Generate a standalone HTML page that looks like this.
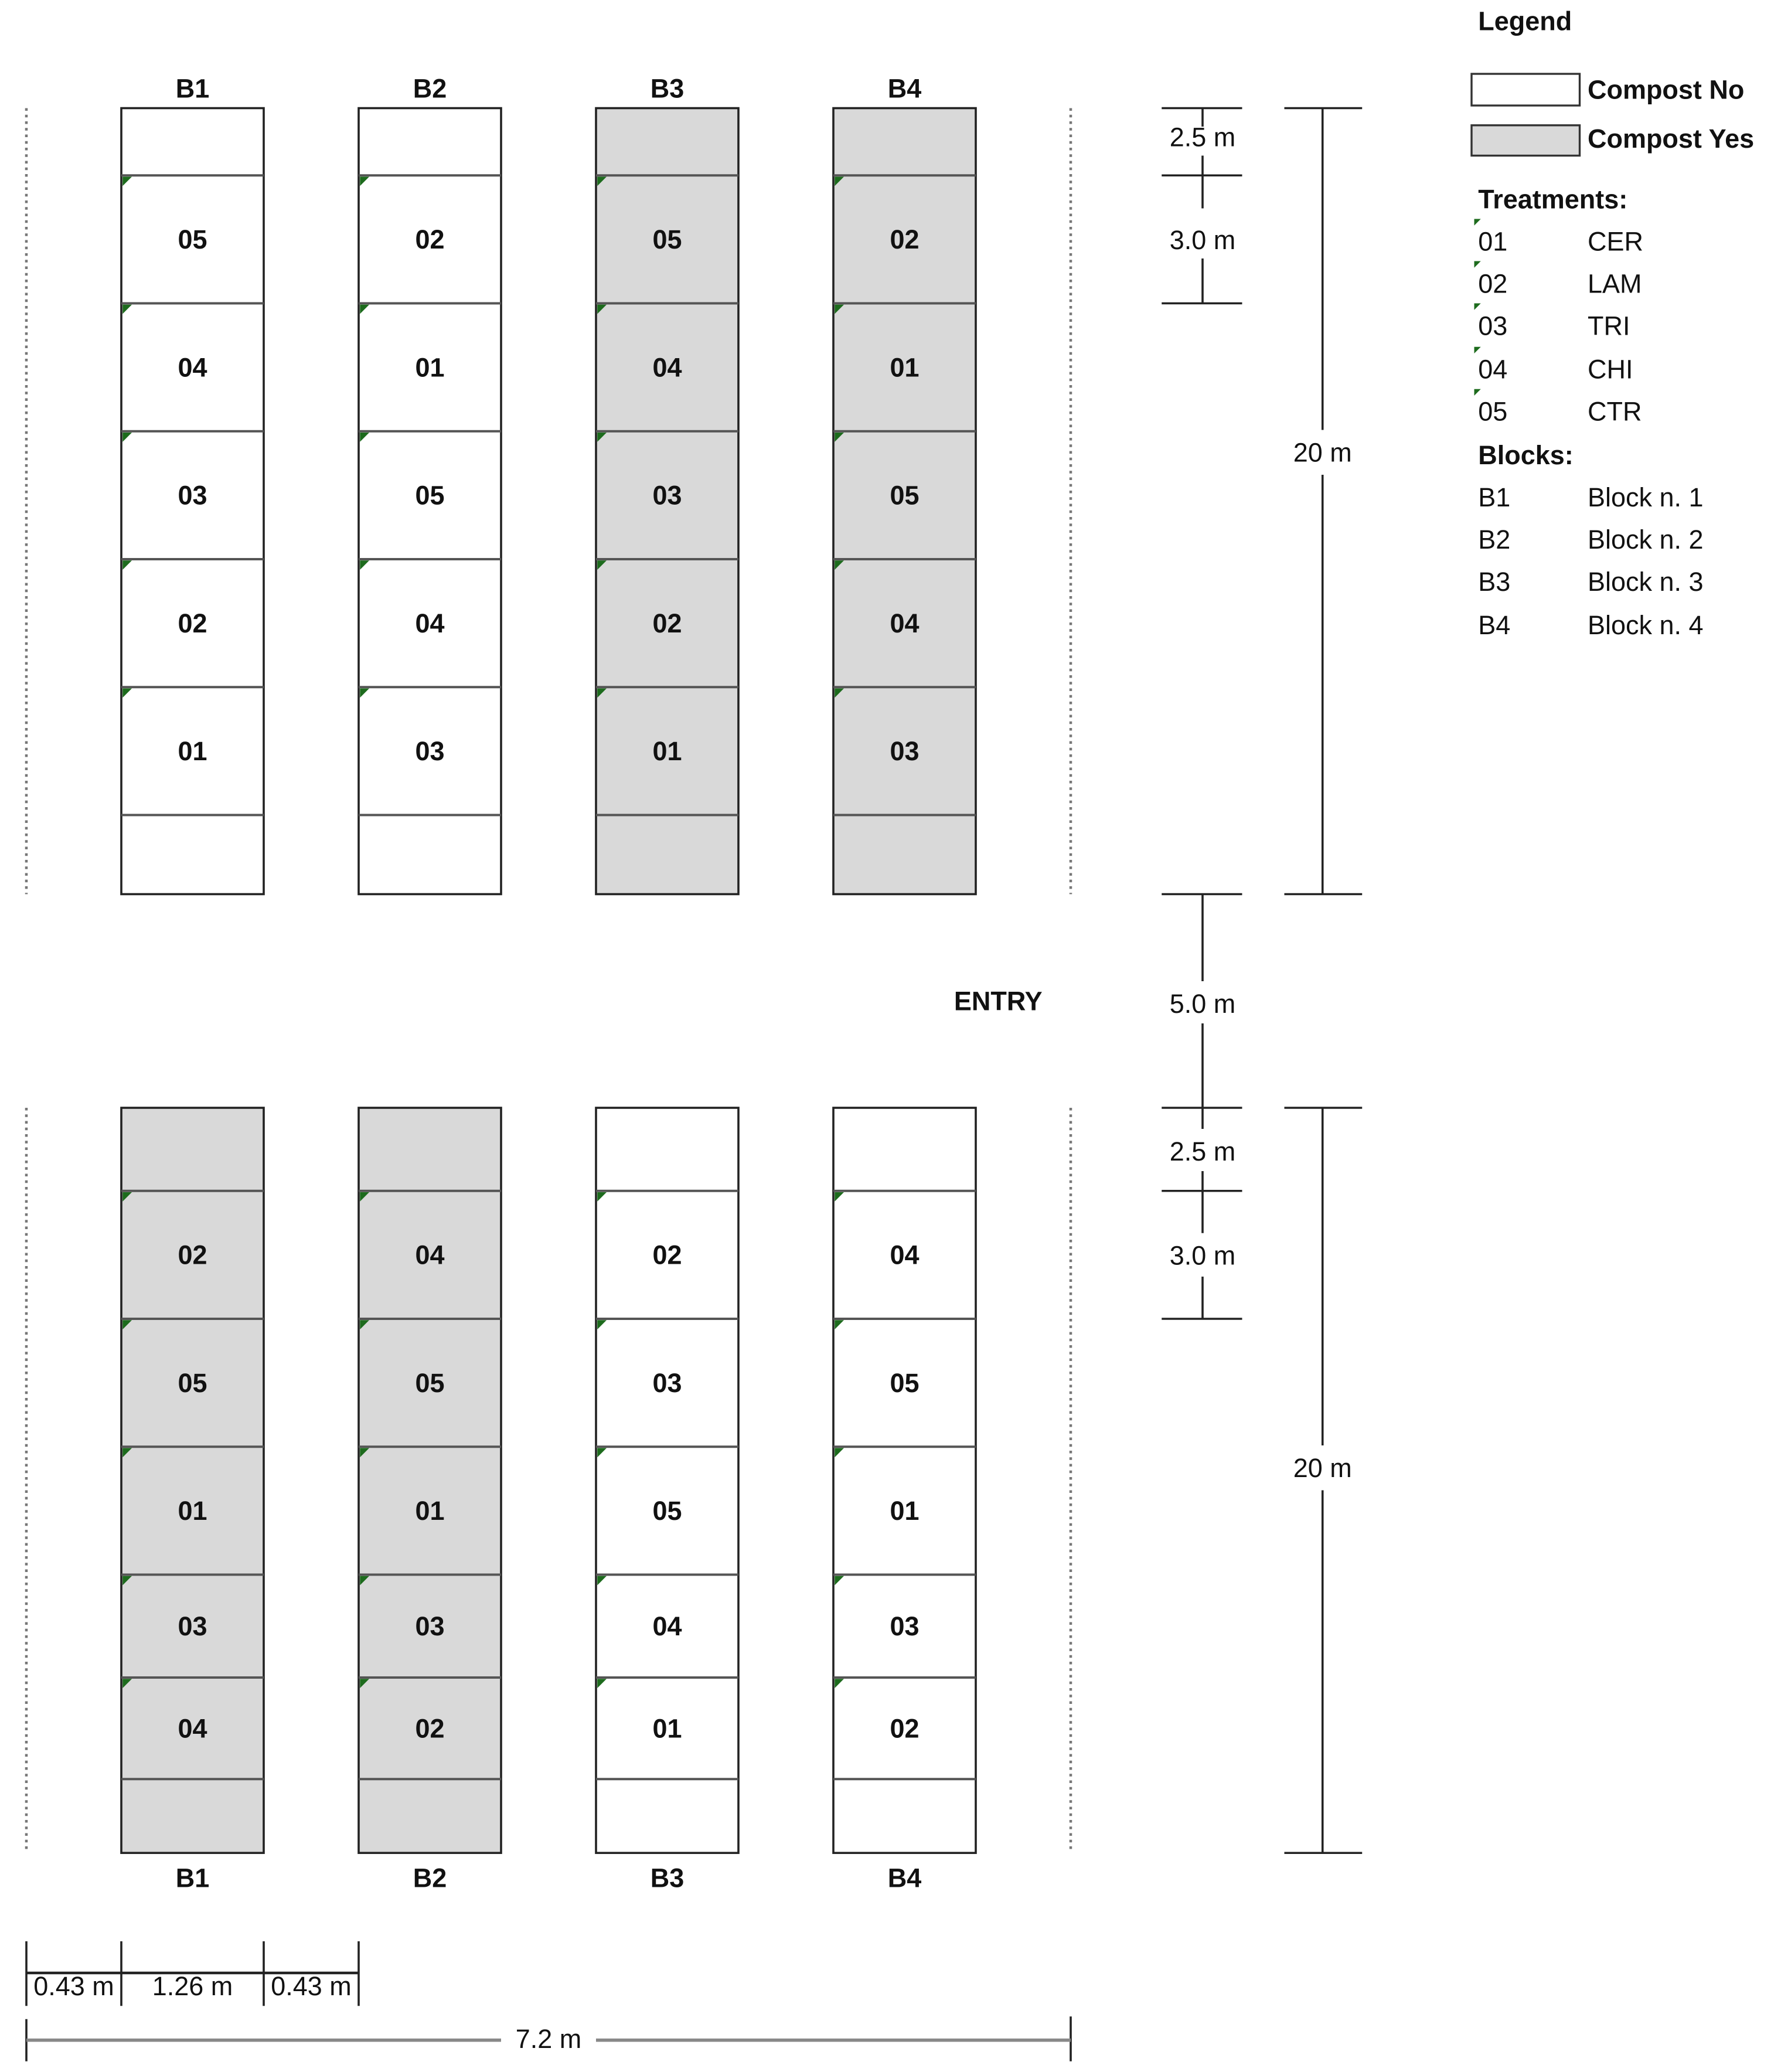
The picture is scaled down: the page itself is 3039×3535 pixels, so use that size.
<!DOCTYPE html>
<html><head><meta charset="utf-8"><style>
html,body{margin:0;padding:0;background:#fff}
svg{display:block}
text{font-family:"Liberation Sans",sans-serif;fill:#111}
.b{font-weight:bold;font-size:20px}
.n{font-size:20px;fill:#333}
</style></head><body>
<svg width="3039" height="3535" viewBox="0 0 1350.67 1571.11" xmlns="http://www.w3.org/2000/svg">
<rect width="1351" height="1572" fill="#fff"/>
<g id="plots"></g>
<!-- dotted boundaries -->
<g stroke="#777" stroke-width="2" stroke-dasharray="2,3">
<line x1="20" y1="82" x2="20" y2="678"/><line x1="812" y1="82" x2="812" y2="678"/>
<line x1="20" y1="840" x2="20" y2="1405"/><line x1="812" y1="840" x2="812" y2="1405"/>
</g>
<!-- right dimensions -->
<g stroke="#222" stroke-width="1.6">
<line x1="881" y1="82" x2="942" y2="82"/><line x1="881" y1="133" x2="942" y2="133"/><line x1="881" y1="230" x2="942" y2="230"/>
<line x1="912" y1="82" x2="912" y2="96"/><line x1="912" y1="118" x2="912" y2="158"/><line x1="912" y1="196" x2="912" y2="230"/>
<line x1="974" y1="82" x2="1033" y2="82"/><line x1="974" y1="678" x2="1033" y2="678"/>
<line x1="1003" y1="82" x2="1003" y2="326"/><line x1="1003" y1="360" x2="1003" y2="678"/>
<line x1="881" y1="678" x2="942" y2="678"/><line x1="912" y1="678" x2="912" y2="744"/><line x1="912" y1="776" x2="912" y2="840"/>
<line x1="881" y1="840" x2="942" y2="840"/><line x1="881" y1="903" x2="942" y2="903"/><line x1="881" y1="1000" x2="942" y2="1000"/>
<line x1="912" y1="840" x2="912" y2="856"/><line x1="912" y1="888" x2="912" y2="935"/><line x1="912" y1="968" x2="912" y2="1000"/>
<line x1="974" y1="840" x2="1033" y2="840"/><line x1="974" y1="1405" x2="1033" y2="1405"/>
<line x1="1003" y1="840" x2="1003" y2="1096"/><line x1="1003" y1="1130" x2="1003" y2="1405"/>
<!-- bottom dims -->
<line x1="20" y1="1472" x2="20" y2="1521"/><line x1="92" y1="1472" x2="92" y2="1521"/><line x1="200" y1="1472" x2="200" y2="1521"/><line x1="272" y1="1472" x2="272" y2="1521"/>
<line x1="20" y1="1496" x2="272" y2="1496" stroke-width="2"/>
<line x1="20" y1="1531" x2="20" y2="1563"/><line x1="812" y1="1529" x2="812" y2="1563"/>
<line x1="20" y1="1547" x2="380" y2="1547" stroke="#888" stroke-width="2.5"/><line x1="452" y1="1547" x2="812" y2="1547" stroke="#888" stroke-width="2.5"/>
</g>
<g class="n" text-anchor="middle">
<text x="912" y="111">2.5 m</text><text x="912" y="189">3.0 m</text><text x="1003" y="350">20 m</text>
<text x="912" y="768">5.0 m</text><text x="912" y="880">2.5 m</text><text x="912" y="959">3.0 m</text><text x="1003" y="1120">20 m</text>
<text x="56" y="1513">0.43 m</text><text x="146" y="1513">1.26 m</text><text x="236" y="1513">0.43 m</text>
<text x="416" y="1553">7.2 m</text>
</g>
<text class="b" x="757" y="766" text-anchor="middle">ENTRY</text>
<!-- legend -->
<text class="b" x="1121" y="23">Legend</text>
<rect x="1116" y="56" width="82" height="24" fill="#fff" stroke="#333" stroke-width="1.5"/>
<rect x="1116" y="95" width="82" height="23" fill="#d9d9d9" stroke="#333" stroke-width="1.5"/>
<text class="b" x="1204" y="75">Compost No</text><text class="b" x="1204" y="112">Compost Yes</text>
<text class="b" x="1121" y="158">Treatments:</text>
<g class="n">
<text x="1121" y="190">01</text><text x="1204" y="190">CER</text>
<text x="1121" y="222">02</text><text x="1204" y="222">LAM</text>
<text x="1121" y="254">03</text><text x="1204" y="254">TRI</text>
<text x="1121" y="287">04</text><text x="1204" y="287">CHI</text>
<text x="1121" y="319">05</text><text x="1204" y="319">CTR</text>
</g>
<g fill="#1d6b1d">
<polygon points="1118,166 1123,166 1118,171"/><polygon points="1118,198 1123,198 1118,203"/><polygon points="1118,230 1123,230 1118,235"/><polygon points="1118,263 1123,263 1118,268"/><polygon points="1118,295 1123,295 1118,300"/>
</g>
<text class="b" x="1121" y="352">Blocks:</text>
<g class="n">
<text x="1121" y="384">B1</text><text x="1204" y="384">Block n. 1</text>
<text x="1121" y="416">B2</text><text x="1204" y="416">Block n. 2</text>
<text x="1121" y="448">B3</text><text x="1204" y="448">Block n. 3</text>
<text x="1121" y="481">B4</text><text x="1204" y="481">Block n. 4</text>
</g>
<g id="lab"></g>
</svg>
<script>
(function(){
var NS="http://www.w3.org/2000/svg",g=document.getElementById('plots');
function el(t,a,txt){var e=document.createElementNS(NS,t);for(var k in a)e.setAttribute(k,a[k]);if(txt)e.textContent=txt;g.appendChild(e);return e;}
var xs=[92,272,452,632];
var secs=[{b:[82,133,230,327,424,521,618,678],gray:[0,0,1,1],lab:[["05","04","03","02","01"],["02","01","05","04","03"],["05","04","03","02","01"],["02","01","05","04","03"]],ty:67},
{b:[840,903,1000,1097,1194,1272,1349,1405],gray:[1,1,0,0],lab:[["02","05","01","03","04"],["04","05","01","03","02"],["02","03","05","04","01"],["04","05","01","03","02"]],ty:1424}];
secs.forEach(function(s){
 xs.forEach(function(x,c){
  var top=s.b[0],bot=s.b[7];
  el('rect',{x:x,y:top,width:108,height:bot-top,fill:s.gray[c]?'#d9d9d9':'#fff',stroke:'#222','stroke-width':1.6});
  for(var i=1;i<7;i++){el('line',{x1:x,y1:s.b[i],x2:x+108,y2:s.b[i],stroke:'#555','stroke-width':1.8});}
  for(var i=1;i<6;i++){
   var y=s.b[i];
   el('polygon',{points:(x+1)+','+(y+1)+' '+(x+8)+','+(y+1)+' '+(x+1)+','+(y+8),fill:'#1d6b1d'});
   el('text',{x:x+54,y:(s.b[i]+s.b[i+1])/2+7,'text-anchor':'middle','class':'b'},s.lab[c][i-1]);
  }
  el('text',{x:x+54,y:s.ty+7,'text-anchor':'middle','class':'b'},'B'+(c+1));
 });
});
})();
</script>
</body></html>
